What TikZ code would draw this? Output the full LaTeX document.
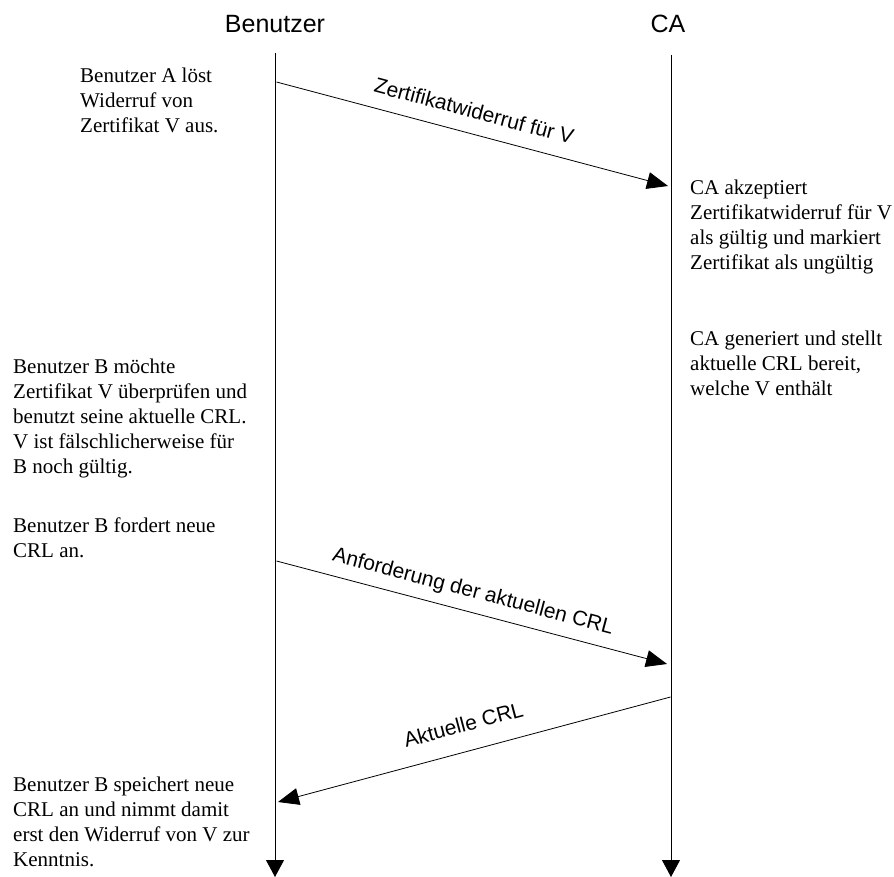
\documentclass[tikz,border=0pt]{standalone}
\usepackage{fontspec}
\setmainfont{Liberation Serif}
\newfontfamily\arialfont{Liberation Sans}
\usetikzlibrary{arrows.meta}
\begin{document}
\begin{tikzpicture}[x=1pt,y=1pt,
  lifeline/.style={line width=0.9pt, -{Triangle[length=17pt,width=18pt]}},
  msg/.style={line width=0.8pt, -{Triangle[length=21pt,width=17pt]}},
  msgback/.style={line width=0.8pt, {Triangle[length=21pt,width=17pt]}-},
  role/.style={font=\arialfont\fontsize{25}{30}\selectfont, inner sep=0pt, anchor=base},
  msglabel/.style={font=\arialfont\fontsize{21}{25}\selectfont, sloped, inner sep=0pt, text depth=0pt},
  note/.style={font=\fontsize{21}{25}\selectfont, align=left, inner sep=0pt, anchor=base west}]
\useasboundingbox (0,0) rectangle (894,-877);

% participants
\node[role] (user) at (275,-33) {Benutzer};
\node[role] (ca) at (668,-33) {CA};

% lifelines
\coordinate (uTop) at (275,-53);
\coordinate (uBot) at (275,-877);
\coordinate (caTop) at (671,-55);
\coordinate (caBot) at (671,-877);
\draw[lifeline] (uTop) -- (uBot);
\draw[lifeline] (caTop) -- (caBot);

% messages
\coordinate (m1s) at (276.5,-82);
\coordinate (m1e) at (668,-186);
\coordinate (m2s) at (276.5,-561);
\coordinate (m2e) at (667,-664);
\coordinate (m3s) at (670.5,-697);
\coordinate (m3e) at (278,-802);
\draw[msg] (m1s) -- node[msglabel, pos=0.49, above=15pt] (l1) {Zertifikatwiderruf für V} (m1e);
\draw[msg] (m2s) -- node[msglabel, pos=0.49, above=14pt] (l2) {Anforderung der aktuellen CRL} (m2e);
\draw[msgback] (m3e) -- node[msglabel, pos=0.49, above=19pt] (l3) {Aktuelle CRL} (m3s);

% notes (the base anchor of a multi-line node is the baseline of its last line)
\node[note] (n1) at (80,-133) {Benutzer A löst\\Widerruf von\\Zertifikat V aus.};
\node[note] (n2) at (690,-270) {CA akzeptiert\\Zertifikatwiderruf für V\\als gültig und markiert\\Zertifikat als ungültig};
\node[note] (n3) at (690,-395) {CA generiert und stellt\\aktuelle CRL bereit,\\welche V enthält};
\node[note] (n4) at (13,-473) {Benutzer B möchte\\Zertifikat V überprüfen und\\benutzt seine aktuelle CRL.\\V ist fälschlicherweise für\\B noch gültig.};
\node[note] (n5) at (13,-557) {Benutzer B fordert neue\\CRL an.};
\node[note] (n6) at (13,-866) {Benutzer B speichert neue\\CRL an und nimmt damit\\erst den Widerruf von V zur\\Kenntnis.};
\end{tikzpicture}
\end{document}
